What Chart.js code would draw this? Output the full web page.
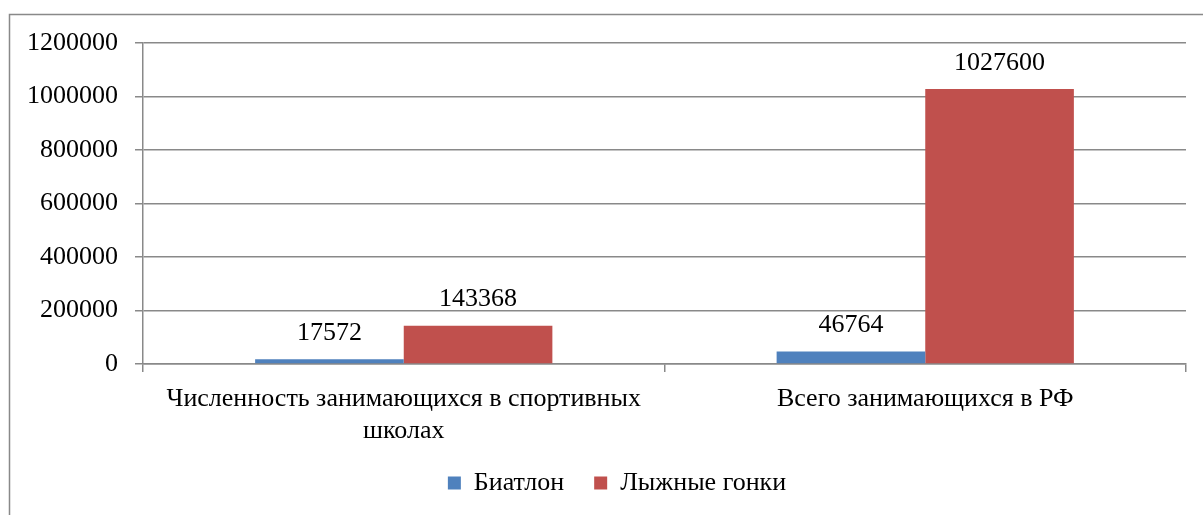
<!DOCTYPE html>
<html>
<head>
<meta charset="utf-8">
<script src="https://cdn.jsdelivr.net/npm/chart.js@4"></script>
<style>
  body { margin: 0; background: #fff; }
  canvas { display: block; }
</style>
</head>
<body>
<canvas id="sportChart" width="1203" height="515"></canvas>
<script>
const categories = [
    ['Численность занимающихся в спортивных', 'школах'],
    'Всего занимающихся в РФ'
];
const biathlon = [17572, 46764];
const skiRacing = [143368, 1027600];

const serifFamily = "'Liberation Serif'";
const gridColor = '#898989';

Chart.defaults.font.family = serifFamily;
Chart.defaults.font.size = 26;
Chart.defaults.color = '#000';

// outer frame of the original figure (left and top edges only are visible)
const framePlugin = {
    id: 'frame',
    beforeDraw: (chart) => {
        const ctx = chart.ctx;
        ctx.save();
        ctx.strokeStyle = gridColor;
        ctx.lineWidth = 1.5;
        ctx.beginPath();
        ctx.moveTo(9.5, 600);
        ctx.lineTo(9.5, 14.5);
        ctx.lineTo(1300, 14.5);
        ctx.stroke();
        ctx.restore();
    }
};

// the legend in the original sits a bit right of centre
const legendShift = {
    id: 'legendShift',
    afterLayout: (chart) => {
        if (chart.legend) chart.legend.left += 48;
    }
};

// value labels above each bar
const valueLabels = {
    id: 'valueLabels',
    afterDatasetsDraw: (chart) => {
        const ctx = chart.ctx;
        ctx.save();
        ctx.font = '26px ' + serifFamily;
        ctx.fillStyle = '#000';
        ctx.textAlign = 'center';
        ctx.textBaseline = 'middle';
        chart.data.datasets.forEach((ds, i) => {
            chart.getDatasetMeta(i).data.forEach((bar, j) => {
                ctx.fillText(String(ds.data[j]), bar.x, bar.y - 26);
            });
        });
        ctx.restore();
    }
};

function drawChart() {
    new Chart(document.getElementById('sportChart'), {
        type: 'bar',
        data: {
            labels: categories,
            datasets: [
                {
                    label: 'Биатлон',
                    data: biathlon,
                    backgroundColor: '#4F81BD',
                    categoryPercentage: 0.57,
                    barPercentage: 1.0
                },
                {
                    label: 'Лыжные гонки',
                    data: skiRacing,
                    backgroundColor: '#C0504D',
                    categoryPercentage: 0.57,
                    barPercentage: 1.0
                }
            ]
        },
        options: {
            responsive: false,
            animation: false,
            layout: {
                padding: { left: 0, right: 17, top: 43, bottom: 9 }
            },
            plugins: {
                legend: {
                    position: 'bottom',
                    labels: {
                        boxWidth: 13,
                        boxHeight: 13,
                        padding: 30,
                        font: { family: serifFamily, size: 26 }
                    }
                },
                tooltip: { enabled: false }
            },
            scales: {
                y: {
                    min: 0,
                    max: 1200000,
                    ticks: {
                        stepSize: 200000,
                        padding: 17,
                        font: { family: serifFamily, size: 26 },
                        callback: (v) => String(v)
                    },
                    grid: { color: gridColor, tickLength: 8, lineWidth: 1.5 },
                    border: { color: gridColor, width: 1.5 },
                    afterFit: (scale) => { scale.width = 143; }
                },
                x: {
                    ticks: {
                        padding: 12,
                        maxRotation: 0,
                        font: { family: serifFamily, size: 26, lineHeight: 1.2 }
                    },
                    grid: { drawOnChartArea: false, color: gridColor, tickLength: 8, lineWidth: 1.5 },
                    border: { color: gridColor, width: 1.5 },
                    afterFit: (scale) => { scale.height = 76; }
                }
            }
        },
        plugins: [framePlugin, legendShift, valueLabels]
    });
}

document.fonts.load("26px 'Liberation Serif'").then(drawChart, drawChart);
</script>
</body>
</html>
